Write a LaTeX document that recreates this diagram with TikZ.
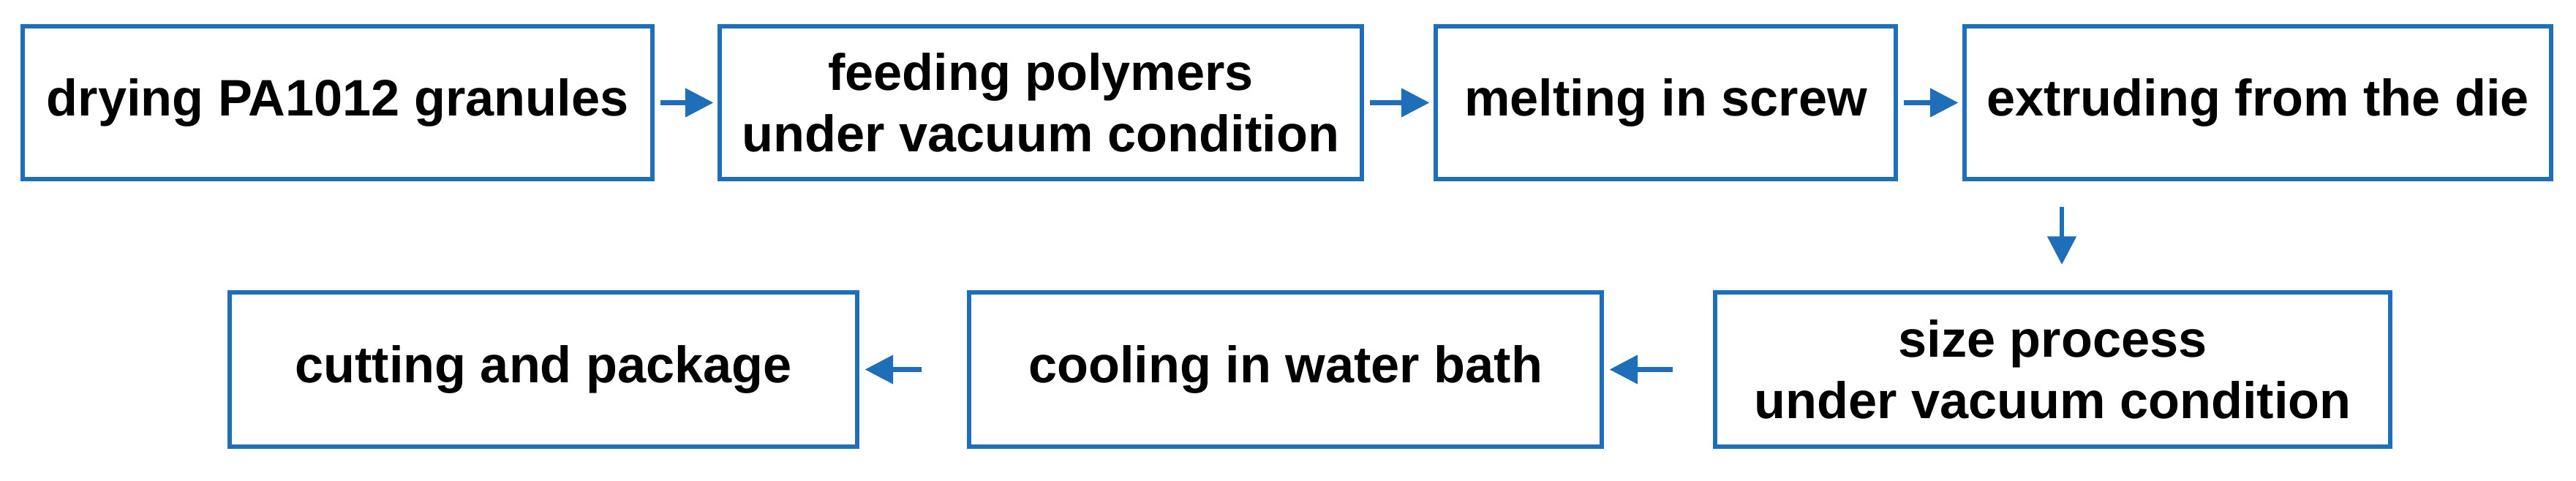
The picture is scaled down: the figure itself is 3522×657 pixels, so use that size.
\documentclass[tikz,border=0pt]{standalone}
\usepackage{fontspec}
\setmainfont{Liberation Sans}
\usetikzlibrary{arrows.meta}
\definecolor{bl}{RGB}{30,110,185}
\begin{document}
\begin{tikzpicture}[x=0.02cm,y=0.02cm,
  box/.style={draw=bl,line width=3pt,inner sep=0pt,align=center,font=\bfseries\fontsize{40}{48}\selectfont},
  arr/.style={draw=bl,line width=3.5pt,-{Triangle[length=22pt,width=22pt]}}]
\useasboundingbox (0,0) rectangle (3522,657);
\node[box,minimum width=17.22cm,minimum height=4.18cm] (b1) at (461.5,516.5) {drying PA1012 granules};
\node[box,minimum width=17.56cm,minimum height=4.18cm] (b2) at (1423,516.5) {feeding polymers\\under vacuum condition};
\node[box,minimum width=12.58cm,minimum height=4.18cm] (b3) at (2277.5,516.5) {melting in screw};
\node[box,minimum width=16.04cm,minimum height=4.18cm] (b4) at (3087,516.5) {extruding from the die};
\node[box,minimum width=18.46cm,minimum height=4.22cm] (b7) at (2806.5,151.5) {size process\\under vacuum condition};
\node[box,minimum width=17.3cm,minimum height=4.22cm] (b6) at (1757.5,151.5) {cooling in water bath};
\node[box,minimum width=17.16cm,minimum height=4.22cm] (b5) at (743,151.5) {cutting and package};
\draw[arr] ([xshift=0.16cm]b1.east) -- ([xshift=-0.12cm]b2.west);
\draw[arr] ([xshift=0.16cm]b2.east) -- ([xshift=-0.12cm]b3.west);
\draw[arr] ([xshift=0.16cm]b3.east) -- ([xshift=-0.12cm]b4.west);
\coordinate (d1) at (2819,374);
\coordinate (d2) at (2819,295);
\draw[arr] (d1) -- (d2);
\draw[arr] ([xshift=-1.1cm]b7.west) -- ([xshift=0.16cm]b6.east);
\draw[arr] ([xshift=-1.24cm]b6.west) -- ([xshift=0.16cm]b5.east);
\end{tikzpicture}
\end{document}
